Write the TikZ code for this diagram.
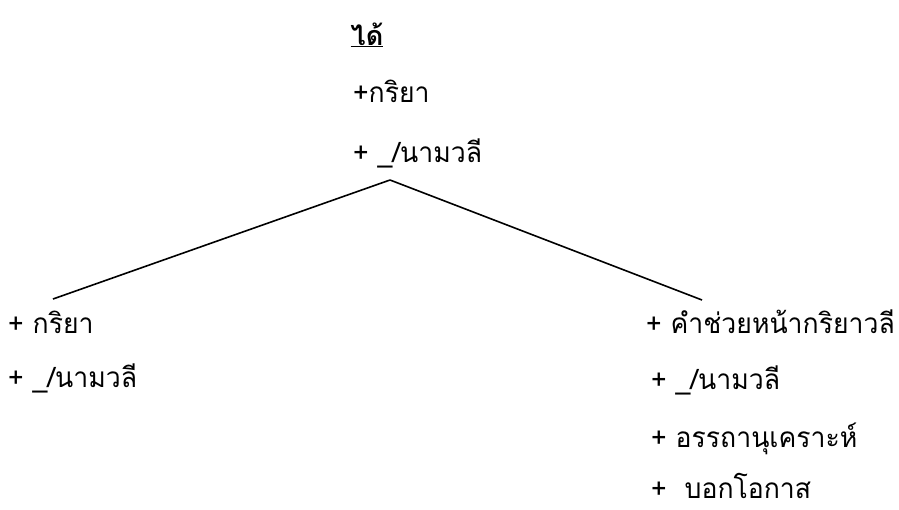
\documentclass[tikz,border=0pt]{standalone}
\usepackage{fontspec}
\newfontfamily\thaifont[Script=Thai,FakeStretch=0.95]{Loma}
\newfontfamily\thaititle[Script=Thai]{Loma}
\tikzset{
  lbl/.style={anchor=base west, inner sep=0pt, font=\thaifont\fontsize{28}{32}\selectfont},
  ttl/.style={anchor=base, inner sep=0pt, font=\thaititle\bfseries\fontsize{27}{30}\selectfont},
  branch/.style={line width=1.6pt}
}
\begin{document}
\begin{tikzpicture}[x=1pt,y=-1pt]
\useasboundingbox (0,0) rectangle (899,509);
\node[ttl] (head) at (367,45) {\underline{ได้}};
\node[lbl] (t1) at (353,102) {+กริยา};
\node[lbl] (t2) at (353,162) {+ \_/นามวลี};
\coordinate (apex) at (390,180);
\coordinate (lend) at (53,299);
\coordinate (rend) at (702,300);
\draw[branch] (apex) -- (lend);
\draw[branch] (apex) -- (rend);
\node[lbl] (l1) at (8,333) {+ กริยา};
\node[lbl] (l2) at (8,387) {+ \_/นามวลี};
\node[lbl] (r1) at (646,333) {+ คำช่วยหน้ากริยาวลี};
\node[lbl] (r2) at (651,389) {+ \_/นามวลี};
\node[lbl] (r3) at (651,447) {+ อรรถานุเคราะห์};
\node[lbl] (r4) at (651,498) {+\ \ บอกโอกาส};
\end{tikzpicture}
\end{document}
